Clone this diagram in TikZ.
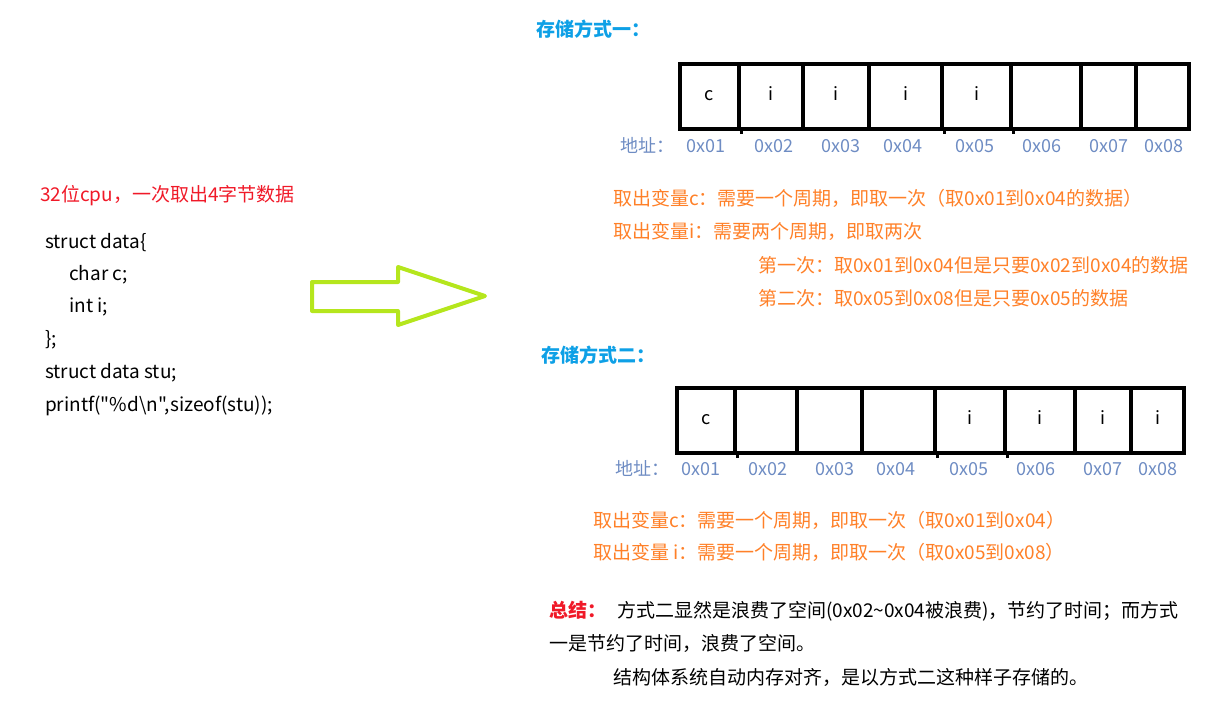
\documentclass[tikz,border=0pt]{standalone}
\usepackage{fontspec}
\setmainfont{Noto Sans CJK SC}[Ligatures=TeXOff]
\usetikzlibrary{positioning}
\definecolor{titleblue}{RGB}{14,160,230}
\definecolor{noteorange}{RGB}{255,128,40}
\definecolor{addrblue}{RGB}{110,140,195}
\definecolor{warnred}{RGB}{240,25,40}
\definecolor{arrowgreen}{RGB}{181,230,29}

\begin{document}
\begin{tikzpicture}[x=1pt, y=1pt, font=\fontsize{19}{22}\selectfont,
  cell/.style={draw, line width=4pt, minimum height=65pt, inner sep=0pt, text height=1.5ex, text depth=0pt, font=\fontsize{18}{20}\selectfont},
  addr/.style={text=addrblue, anchor=base, font=\fontsize{18}{20}\selectfont},
  note/.style={text=noteorange, anchor=base west, inner sep=0pt},
  code/.style={anchor=base west, inner sep=0pt},
  title/.style={text=titleblue, anchor=base west, inner sep=0pt, font=\fontsize{19}{22}\selectfont\bfseries}]
\useasboundingbox (0pt, 0pt) rectangle (1214pt, -719pt);
% left side
\draw (40.0pt, -202.0pt)node[code, text=warnred](cpu){32位cpu，一次取出4字节数据};
\draw (45.0pt, -248.0pt)node[code](c1){struct data\{};
\draw (69.0pt, -280.0pt)node[code](c2){char c;};
\draw (69.0pt, -312.0pt)node[code](c3){int i;};
\draw (45.0pt, -345.0pt)node[code](c4){\};};
\draw (45.0pt, -378.0pt)node[code](c5){struct data stu;};
\draw (45.0pt, -411.0pt)node[code](c6){printf("\%d\textbackslash n",sizeof(stu));};
\draw[arrowgreen, line width=4pt, line join=round] (312pt, -282pt) -- (398pt, -282pt) -- (398pt, -267pt) -- (485pt, -296pt) -- (398pt, -325pt) -- (398pt, -311pt) -- (312pt, -311pt) -- cycle;
% way one
\draw (536.0pt, -37.0pt)node[title](t1){存储方式一：};
\foreach \l/\r/\t [count=\n] in {680/739/c, 739/803/i, 803/869/i, 869/942/i, 942/1011/i, 1011/1081/{}, 1081/1136/{}, 1136/1189/{}}
  \draw ({(\l+\r)/2*1pt}, -96.5pt)node[cell, minimum width={(\r-\l)*1pt}](p\n){\t};
\foreach \n in {1,4,5}
  \draw[line width=3pt] (p\n.south east) -- ++(0pt, -3pt);
\draw (647.0pt, -153.0pt)node[addr](pa){地址：};
\foreach \x/\a in {706/0x01, 774/0x02, 841/0x03, 903/0x04, 975/0x05, 1042/0x06, 1109/0x07, 1164/0x08}
  \draw (\x pt, -153.0pt)node[addr](pa\a){\a};
\draw (613.0pt, -206.0pt)node[note](n1){取出变量c：需要一个周期，即取一次（取0x01到0x04的数据）};
\draw (613.0pt, -238.0pt)node[note](n2){取出变量i：需要两个周期，即取两次};
\draw (758.0pt, -272.0pt)node[note](n3){第一次：取0x01到0x04但是只要0x02到0x04的数据};
\draw (758.0pt, -305.0pt)node[note](n4){第二次：取0x05到0x08但是只要0x05的数据};
% way two
\draw (541.0pt, -362.0pt)node[title](t2){存储方式二：};
\foreach \l/\r/\t [count=\n] in {677/735/c, 735/797/{}, 797/862/{}, 862/935/{}, 935/1005/i, 1005/1075/i, 1075/1131/i, 1131/1184/i}
  \draw ({(\l+\r)/2*1pt}, -420.5pt)node[cell, minimum width={(\r-\l)*1pt}](q\n){\t};
\foreach \n in {1,4,5}
  \draw[line width=3pt] (q\n.south east) -- ++(0pt, -3pt);
\draw (642.0pt, -475.0pt)node[addr](qa){地址：};
\foreach \x/\a in {701/0x01, 768/0x02, 835/0x03, 896/0x04, 969/0x05, 1036/0x06, 1103/0x07, 1158/0x08}
  \draw (\x pt, -475.0pt)node[addr](qa\a){\a};
\draw (593.0pt, -527.0pt)node[note](n5){取出变量c：需要一个周期，即取一次（取0x01到0x04）};
\draw (593.0pt, -559.0pt)node[note](n6){取出变量 i：需要一个周期，即取一次（取0x05到0x08）};
% summary
\draw (549.0pt, -617.0pt)node[code, text=warnred, font=\fontsize{19}{22}\selectfont\bfseries](s0){总结：};
\draw (617.0pt, -617.0pt)node[code](s1){方式二显然是浪费了空间(0x02\textasciitilde 0x04被浪费)，节约了时间；而方式};
\draw (549.0pt, -650.0pt)node[code](s2){一是节约了时间，浪费了空间。};
\draw (613.0pt, -684.0pt)node[code](s3){结构体系统自动内存对齐，是以方式二这种样子存储的。};
\end{tikzpicture}
\end{document}
